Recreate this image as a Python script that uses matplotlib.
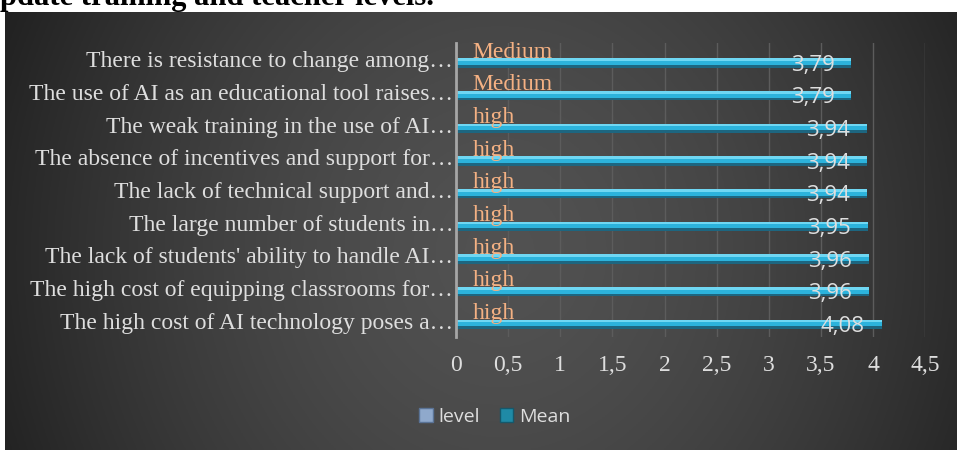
import numpy as np
import matplotlib
matplotlib.use("Agg")
import matplotlib.pyplot as plt
from matplotlib.patches import Patch

# ---------------------------------------------------------------- data
categories = [
    "There is resistance to change among…",
    "The use of AI as an educational tool raises…",
    "The weak training in the use of AI…",
    "The absence of incentives and support for…",
    "The lack of technical support and…",
    "The large number of students in…",
    "The lack of students' ability to handle AI…",
    "The high cost of equipping classrooms for…",
    "The high cost of AI technology poses a…",
]
means = [3.79, 3.79, 3.94, 3.94, 3.94, 3.95, 3.96, 3.96, 4.08]
levels = ["Medium", "Medium", "high", "high", "high", "high", "high", "high", "high"]
xticks = [0, 0.5, 1, 1.5, 2, 2.5, 3, 3.5, 4, 4.5]
xtick_labels = ["0", "0,5", "1", "1,5", "2", "2,5", "3", "3,5", "4", "4,5"]

SERIF = "Liberation Serif"
SANS = "Open Sans"
LIGHT = "#dedede"

fig = plt.figure(figsize=(9.57, 4.5), dpi=100)

# dark radial-ish background of the chart area
bg = fig.add_axes([5 / 957, 0, 1 - 5 / 957, 1 - 12 / 450], zorder=0)
gx, gy = np.meshgrid(np.linspace(0, 1, 400), np.linspace(0, 1, 200))
r = np.sqrt(((gx - 0.52) / 0.55) ** 2 + ((gy - 0.55) / 1.3) ** 2)
shade = np.clip(0.32 - 0.18 * r ** 1.6, 0.1, 0.4)
bg.imshow(np.dstack([shade] * 3), aspect="auto", extent=[0, 1, 0, 1])
bg.set_axis_off()

# heading of the page, cut off by the top edge as in the source
fig.text(0.0, 1 - 5.5 / 450, "pdate training and teacher levels.", family=SERIF,
         fontweight="bold", fontsize=22, color="black", va="baseline", ha="left", zorder=-1)

ax = fig.add_axes([456 / 957, 1 - 337 / 450, 4.5 * 104.3 / 957, 294 / 450], zorder=1)
ax.patch.set_alpha(0)

y = np.arange(len(categories))
off = 0.11
ax.barh(y + off, means, height=0.29, color="#1d6680", zorder=3)
ax.barh(y + off - 0.04, means, height=0.21, color="#2cb3dc", zorder=4)
ax.barh(y + off - 0.1, means, height=0.08, color="#6fd7f3", zorder=5)

for i, (m, lv) in enumerate(zip(means, levels)):
    ax.text(m - 0.16, i + off + 0.07, f"{m:.2f}".replace(".", ","), ha="right",
            va="center", family=SANS, fontsize=16, color=LIGHT, zorder=6)
    ax.text(0.16, i - 0.05, lv, ha="left", va="baseline", family=SERIF,
            fontsize=17, color="#f4b183", zorder=6)

ax.set_xlim(0, 4.5)
ax.set_ylim(len(categories) - 0.5, -0.5)
ax.set_xticks(xticks)
ax.set_xticklabels(xtick_labels, family=SERIF, fontsize=17, color=LIGHT)
ax.set_yticks(y)
ax.set_yticklabels(categories, family=SERIF, fontsize=17, color=LIGHT)
ax.tick_params(axis="x", length=0, pad=13)
ax.tick_params(axis="y", length=0, pad=2)
ax.grid(axis="x", color="#5c5c5c", lw=1, zorder=1)
for s in ["top", "right", "bottom"]:
    ax.spines[s].set_visible(False)
ax.spines["left"].set_color("#a6a6a6")
ax.spines["left"].set_linewidth(2)
ax.spines["left"].set_zorder(7)

handles = [Patch(facecolor="#8fa9cc", edgecolor="#5a7396", label="level"),
           Patch(facecolor="#1f8aa6", edgecolor="#15586b", label="Mean")]
fig.legend(handles=handles, loc="center", bbox_to_anchor=(495 / 957, 1 - 417 / 450),
           ncol=2, frameon=False, prop={"family": SANS, "size": 14}, labelcolor=LIGHT,
           handlelength=0.7, handleheight=0.7, handletextpad=0.3, columnspacing=1.0)

fig.savefig("out.png", dpi=100)
